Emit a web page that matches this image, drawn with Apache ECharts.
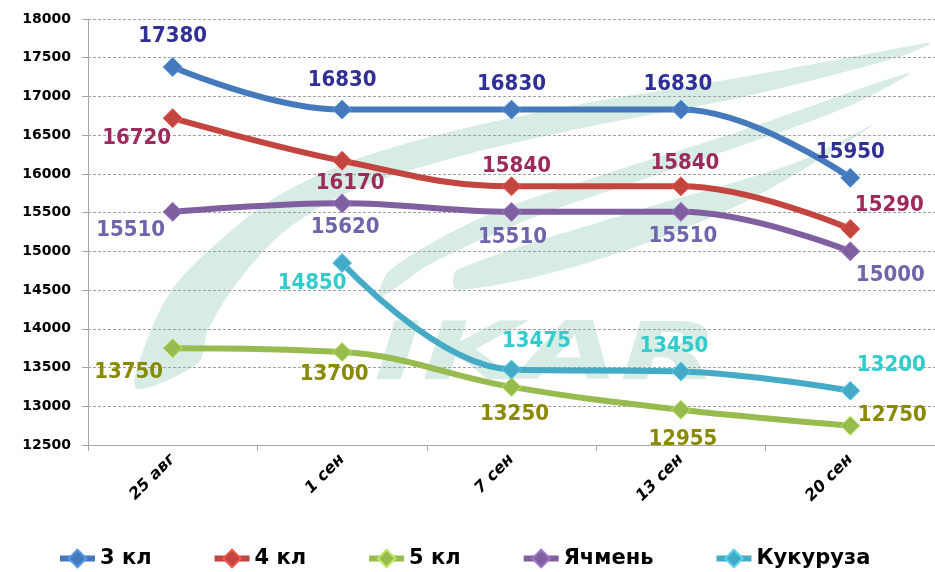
<!DOCTYPE html>
<html>
<head>
<meta charset="utf-8">
<script src="https://cdn.jsdelivr.net/npm/echarts@6/dist/echarts.min.js"></script>
<style>
  html, body { margin: 0; padding: 0; background: #fff; }
  #chart { width: 935px; height: 572px; }
</style>
</head>
<body>
<div id="chart"></div>
<script>
// data
var categories = ['25 авг', '1 сен', '7 сен', '13 сен', '20 сен'];
var cl3 = [17380, 16830, 16830, 16830, 15950];
var cl4 = [16720, 16170, 15840, 15840, 15290];
var cl5 = [13750, 13700, 13250, 12955, 12750];
var barley = [15510, 15620, 15510, 15510, 15000];
var corn = [null, 14850, 13475, 13450, 13200];
var yMin = 12500, yMax = 18000, yStep = 500;

// label offsets from each point (style only)
var off3 = [[0, -31], [0, -29], [0, -25], [-3, -25], [0, -26]];
var off4 = [[-36, 20], [8, 23], [5, -20], [4, -23], [39, -24]];
var off5 = [[-44, 24], [-8, 22], [3, 27], [2, 30], [42, -10]];
var offB = [[-42, 18], [3, 24], [1, 25], [2, 24], [40, 24]];
var offC = [[0, 0], [-30, 20], [25, -28], [-7, -25], [41, -26]];

var chart = echarts.init(document.getElementById('chart'));

function makeSeries(name, values, offsets, lineColor, labelColor) {
  return {
    name: name,
    type: 'line',
    smooth: 0.4,
    symbol: 'diamond',
    symbolSize: 19,
    lineStyle: { width: 6, color: lineColor },
    itemStyle: { color: lineColor, borderColor: echarts.color.lift(lineColor, -0.25), borderWidth: 1 },
    label: {
      show: true,
      position: 'inside',
      color: labelColor,
      fontFamily: 'DejaVu Sans Condensed',
      fontWeight: 'bold',
      fontSize: 22
    },
    data: values.map(function (v, i) {
      return { value: v === null ? '-' : v, label: { offset: offsets[i] } };
    })
  };
}

var leafColor = '#d8ece6';

var option = {
  animation: false,
  backgroundColor: '#fff',
  graphic: [
    {
      type: 'polygon', z: -10, silent: true,
      shape: {
        smooth: 0.3,
        points: [[136, 388], [151, 330], [177, 283], [224, 237], [276, 197], [354, 160], [457, 130],
                 [587, 103], [743, 77], [873, 53], [930, 43], [899, 57], [743, 97], [587, 127],
                 [457, 157], [354, 190], [286, 230], [239, 280], [208, 330], [198, 363]]
      },
      style: { fill: leafColor }
    },
    {
      type: 'polygon', z: -10, silent: true,
      shape: {
        smooth: 0.3,
        points: [[380, 297], [390, 270], [483, 217], [587, 180], [743, 130], [909, 73],
                 [847, 107], [691, 163], [535, 217], [432, 263]]
      },
      style: { fill: leafColor }
    },
    {
      type: 'polygon', z: -10, silent: true,
      shape: {
        smooth: 0.3,
        points: [[457, 290], [457, 270], [639, 210], [795, 163], [873, 125], [743, 203], [587, 263]]
      },
      style: { fill: leafColor }
    },
    {
      type: 'text', z: -10, silent: true,
      x: 374, y: 358, scaleX: 1.6,
      style: {
        text: 'IKAR',
        font: 'italic bold 80px "DejaVu Sans"',
        fill: leafColor,
        textVerticalAlign: 'middle'
      }
    }
  ],
  legend: {
    left: 52,
    top: 543,
    itemGap: 60,
    itemWidth: 35,
    itemHeight: 22,
    lineStyle: { width: 6 },
    textStyle: { fontFamily: 'DejaVu Sans', fontWeight: 'bold', fontSize: 21, color: '#000' },
    data: ['3 кл', '4 кл', '5 кл', 'Ячмень', 'Кукуруза']
  },
  grid: { left: 88, top: 19, width: 852, height: 426 },
  xAxis: {
    type: 'category',
    data: categories,
    boundaryGap: true,
    axisLine: { lineStyle: { color: '#a6a6a6', width: 1 } },
    axisTick: { show: true, length: 6, lineStyle: { color: '#a6a6a6' } },
    axisLabel: {
      rotate: 45,
      margin: 12,
      color: '#000',
      fontFamily: 'DejaVu Sans',
      fontStyle: 'italic',
      fontWeight: 'bold',
      fontSize: 16
    }
  },
  yAxis: {
    type: 'value',
    min: yMin,
    max: yMax,
    interval: yStep,
    axisLine: { show: true, lineStyle: { color: '#a6a6a6', width: 1 } },
    axisTick: { show: true, length: 6, lineStyle: { color: '#a6a6a6' } },
    axisLabel: {
      margin: 17,
      color: '#000',
      fontFamily: 'DejaVu Sans',
      fontWeight: 'bold',
      fontSize: 14,
      formatter: function (v) { return String(v); }
    },
    splitLine: { lineStyle: { color: '#a0a0a0', type: [3, 2], width: 1 } }
  },
  series: [
    makeSeries('3 кл', cl3, off3, '#4479bb', '#302f96'),
    makeSeries('4 кл', cl4, off4, '#c2463f', '#9c2a5c'),
    makeSeries('5 кл', cl5, off5, '#98bb50', '#8a8a00'),
    makeSeries('Ячмень', barley, offB, '#7f5fa0', '#6e66aa'),
    makeSeries('Кукуруза', corn, offC, '#45aac5', '#33cccc')
  ]
};

chart.setOption(option);
</script>
</body>
</html>
